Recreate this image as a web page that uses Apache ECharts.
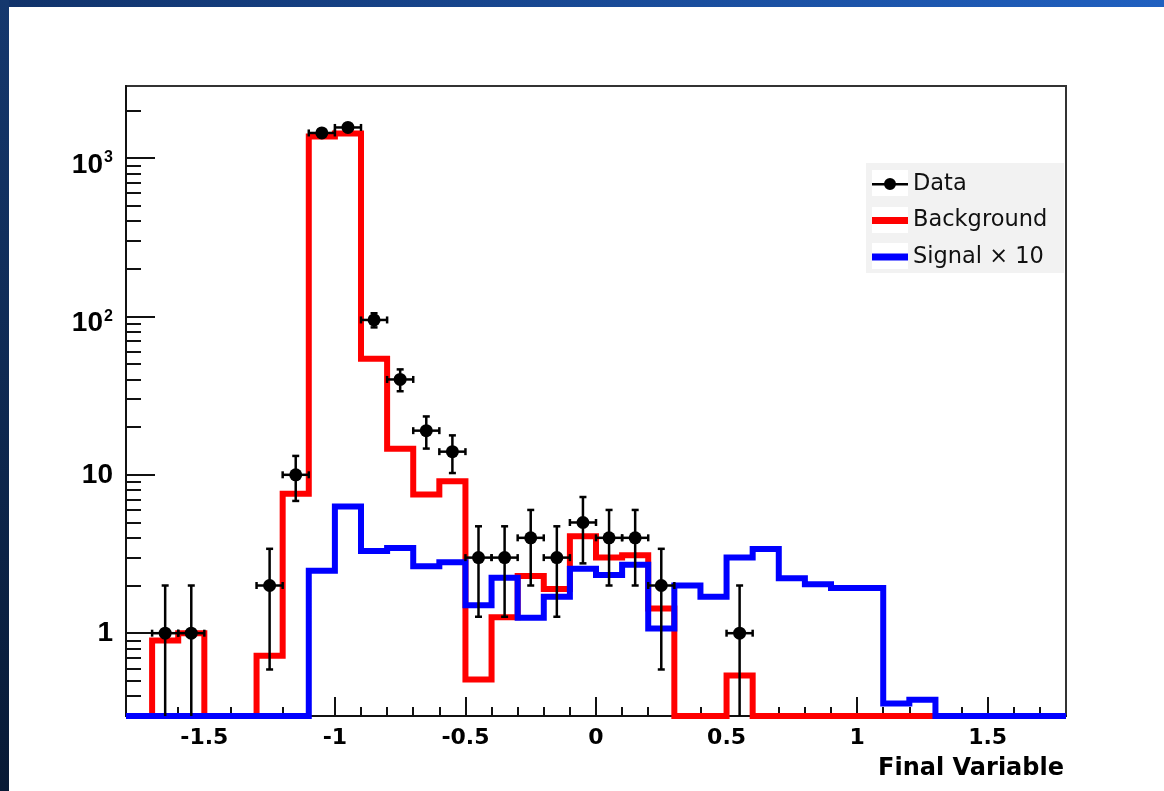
<!DOCTYPE html>
<html>
<head>
<meta charset="utf-8">
<title>Final Variable</title>
<script src="https://cdn.jsdelivr.net/npm/echarts@6/dist/echarts.min.js"></script>
<style>
  html, body { margin: 0; padding: 0; background: #fff; }
  #wrap { position: relative; width: 1164px; height: 791px; overflow: hidden; }
  #chart { position: absolute; left: 0; top: 0; width: 1164px; height: 791px; }
  /* slide frame bands */
  #bandTop { position: absolute; left: 0; top: 0; width: 1164px; height: 7px;
    background: linear-gradient(to right, #11336a, #2060c0); }
  #bandLeft { position: absolute; left: 0; top: 0; width: 9px; height: 791px;
    background: linear-gradient(to bottom, #15386e, #081a35); }
</style>
</head>
<body>
<div id="wrap">
  <div id="chart"></div>
  <div id="bandTop"></div>
  <div id="bandLeft"></div>
</div>
<script>
// bin edges of the histograms (width 0.1)
const xEdges = [
  -1.8, -1.7, -1.6, -1.5, -1.4, -1.3, -1.2, -1.1, -1.0, -0.9, -0.8, -0.7, -0.6,
  -0.5, -0.4, -0.3, -0.2, -0.1, 0.0, 0.1, 0.2, 0.3, 0.4, 0.5, 0.6, 0.7, 0.8,
  0.9, 1.0, 1.1, 1.2, 1.3, 1.4, 1.5, 1.6, 1.7, 1.8
];

// one value per bin, 0 = empty bin
const backgroundCounts = [
  0, 0.9, 1.0, 0, 0, 0.72, 7.6, 1370, 1430, 54, 14.6, 7.5, 9.1,
  0.51, 1.26, 2.3, 1.9, 4.1, 3.0, 3.1, 1.43, 0, 0, 0.54, 0, 0,
  0, 0, 0, 0, 0, 0, 0, 0, 0, 0
];
const signalCounts = [
  0, 0, 0, 0, 0, 0, 0, 2.48, 6.3, 3.3, 3.45, 2.65, 2.8,
  1.5, 2.24, 1.25, 1.7, 2.55, 2.33, 2.7, 1.07, 2.0, 1.7, 3.0, 3.4, 2.22,
  2.04, 1.93, 1.93, 0.36, 0.38, 0, 0, 0, 0, 0
];

// data points (bin centre, count, error)
const dataCenters = [-1.65, -1.55, -1.25, -1.15, -1.05, -0.95, -0.85, -0.75, -0.65, -0.55,
  -0.45, -0.35, -0.25, -0.15, -0.05, 0.05, 0.15, 0.25, 0.55];
const dataCounts = [1, 1, 2, 10, 1440, 1560, 95, 40, 19, 14, 3, 3, 4, 3, 5, 4, 4, 2, 1];
const dataErrors = [1, 1, 1.41, 3.16, 38, 39.5, 9.75, 6.3, 4.36, 3.74,
  1.73, 1.73, 2, 1.73, 2.24, 2, 2, 1.41, 1];

// ticks and labels
const xMajorTicks = [-1.5, -1, -0.5, 0, 0.5, 1, 1.5];
const xMinorTicks = [-1.7, -1.6, -1.4, -1.3, -1.2, -1.1, -0.9, -0.8, -0.7, -0.6,
  -0.4, -0.3, -0.2, -0.1, 0.1, 0.2, 0.3, 0.4, 0.6, 0.7, 0.8, 0.9,
  1.1, 1.2, 1.3, 1.4, 1.6, 1.7];
const yMajorTicks = [1, 10, 100, 1000];
const yMinorTicks = [0.4, 0.5, 0.6, 0.7, 0.8, 0.9, 2, 3, 4, 5, 6, 7, 8, 9,
  20, 30, 40, 50, 60, 70, 80, 90, 200, 300, 400, 500, 600, 700, 800, 900, 2000];
const yPlainLabels = [1, 10];          // written out in full
const yPowerLabels = [100, 1000];      // written as 10 with an exponent
const yExponents = {100: '2', 1000: '3'};

const xMin = -1.8, xMax = 1.8;
const yMin = 0.3, yMax = 2850;
const halfBin = (xEdges[1] - xEdges[0]) / 2;

// histogram -> step points, empty bins sit on the axis floor
function toSteps(counts) {
  const pts = counts.map((v, i) => [xEdges[i], v > yMin ? v : yMin]);
  pts.push([xEdges[xEdges.length - 1], pts[pts.length - 1][1]]);
  return pts;
}

const chart = echarts.init(document.getElementById('chart'), null, {renderer: 'canvas'});

const tickLine = {color: '#111', width: 2};
const baseX = {
  type: 'value', min: xMin, max: xMax, position: 'bottom',
  splitLine: {show: false}
};
const baseY = {
  type: 'log', logBase: 10, min: yMin, max: yMax, position: 'left',
  splitLine: {show: false}
};
const yFont = {fontFamily: 'Liberation Sans', fontWeight: 'bold', color: '#000'};

const option = {
  animation: false,
  backgroundColor: '#fff',
  textStyle: {fontFamily: 'DejaVu Sans'},
  title: {
    text: 'Final Variable',
    right: 100, top: 757, padding: 0,
    textStyle: {fontFamily: 'DejaVu Sans', fontWeight: 'bold', fontSize: 24, color: '#000'}
  },
  grid: {
    left: 126, right: 98, top: 86, bottom: 75,
    show: true, borderColor: '#333', borderWidth: 2, backgroundColor: 'transparent'
  },
  graphic: [
    {type: 'rect', z: 3, shape: {x: 866, y: 163, width: 198, height: 110}, style: {fill: '#f2f2f2'}},
    {type: 'rect', z: 3, shape: {x: 872, y: 170, width: 36, height: 26}, style: {fill: '#fff'}},
    {type: 'rect', z: 3, shape: {x: 872, y: 207, width: 36, height: 26}, style: {fill: '#fff'}},
    {type: 'rect', z: 3, shape: {x: 872, y: 243, width: 36, height: 26}, style: {fill: '#fff'}}
  ],
  legend: {
    orient: 'vertical',
    left: 872, top: 172, padding: 0,
    itemWidth: 36, itemHeight: 14, itemGap: 12.5, itemTextGap: 11,
    symbolKeepAspect: true,
    textStyle: {fontFamily: 'DejaVu Sans', fontSize: 22.5, color: '#111', lineHeight: 24},
    data: [
      {name: 'Data', icon: 'path://M0,5.5h36v2.5h-36z M24,6.5A6,6 0 1,1 12,6.5A6,6 0 1,1 24,6.5Z'},
      {name: 'Background', icon: 'path://M0,0h36v7h-36z'},
      {name: 'Signal \u00d7 10', icon: 'path://M0,0h36v7h-36z'}
    ]
  },
  xAxis: [
    Object.assign({}, baseX, {
      axisLine: {show: true, onZero: false, lineStyle: tickLine},
      axisTick: {show: true, inside: true, length: 19, customValues: xMajorTicks, lineStyle: tickLine},
      axisLabel: {show: true, customValues: xMajorTicks, margin: 11,
        fontFamily: 'DejaVu Sans', fontWeight: 'bold', fontSize: 22, color: '#000',
        formatter: v => String(v)}
    }),
    Object.assign({}, baseX, {
      axisLine: {show: false, onZero: false},
      axisTick: {show: true, inside: true, length: 9, customValues: xMinorTicks, lineStyle: tickLine},
      axisLabel: {show: false}
    })
  ],
  yAxis: [
    Object.assign({}, baseY, {
      axisLine: {show: true, onZero: false, lineStyle: tickLine},
      axisTick: {show: true, inside: true, length: 29, customValues: yMajorTicks, lineStyle: tickLine},
      axisLabel: Object.assign({show: true, customValues: yPlainLabels, margin: 13, fontSize: 28,
        formatter: v => String(v)}, yFont)
    }),
    Object.assign({}, baseY, {
      axisLine: {show: false, onZero: false},
      axisTick: {show: true, inside: true, length: 15, customValues: yMinorTicks, lineStyle: tickLine},
      // base "10" of the powers, sits a little below the tick
      axisLabel: Object.assign({show: true, customValues: yPowerLabels, margin: 23, fontSize: 28,
        lineHeight: 14, verticalAlign: 'top', formatter: () => '10'}, yFont)
    }),
    Object.assign({}, baseY, {
      axisLine: {show: false, onZero: false},
      axisTick: {show: false},
      // exponent
      axisLabel: Object.assign({show: true, customValues: yPowerLabels, margin: 13, fontSize: 16,
        formatter: v => yExponents[v]}, yFont)
    })
  ],
  series: [
    {
      name: 'Background',
      type: 'line', step: 'end', symbol: 'none',
      xAxisIndex: 0, yAxisIndex: 0,
      data: toSteps(backgroundCounts),
      itemStyle: {color: '#ff0000'},
      lineStyle: {color: '#ff0000', width: 6, join: 'miter', cap: 'butt'},
      z: 2
    },
    {
      name: 'Signal \u00d7 10',
      type: 'line', step: 'end', symbol: 'none',
      xAxisIndex: 0, yAxisIndex: 0,
      data: toSteps(signalCounts),
      itemStyle: {color: '#0000ff'},
      lineStyle: {color: '#0000ff', width: 6, join: 'miter', cap: 'butt'},
      z: 3
    },
    {
      name: 'Data',
      type: 'custom',
      xAxisIndex: 0, yAxisIndex: 0,
      itemStyle: {color: '#000'},
      z: 4,
      data: dataCenters.map((x, i) => [x, dataCounts[i], dataErrors[i]]),
      renderItem: function (params, api) {
        const x = api.value(0), y = api.value(1), e = api.value(2);
        const c = api.coord([x, y]);
        const xl = api.coord([x - halfBin, y])[0];
        const xr = api.coord([x + halfBin, y])[0];
        const low = y - e;
        const clipped = low <= yMin;
        const yb = api.coord([x, clipped ? yMin : low])[1];
        const yt = api.coord([x, y + e])[1];
        const st = {stroke: '#000', lineWidth: 2.5};
        const cap = 3.5;
        const kids = [
          {type: 'line', shape: {x1: xl, y1: c[1], x2: xr, y2: c[1]}, style: st},
          {type: 'line', shape: {x1: xl, y1: c[1] - cap, x2: xl, y2: c[1] + cap}, style: st},
          {type: 'line', shape: {x1: xr, y1: c[1] - cap, x2: xr, y2: c[1] + cap}, style: st},
          {type: 'line', shape: {x1: c[0], y1: yb, x2: c[0], y2: yt}, style: st},
          {type: 'line', shape: {x1: c[0] - cap, y1: yt, x2: c[0] + cap, y2: yt}, style: st}
        ];
        if (!clipped) {
          kids.push({type: 'line', shape: {x1: c[0] - cap, y1: yb, x2: c[0] + cap, y2: yb}, style: st});
        }
        kids.push({type: 'circle', shape: {cx: c[0], cy: c[1], r: 6.5}, style: {fill: '#000'}});
        return {type: 'group', children: kids};
      }
    }
  ]
};

chart.setOption(option);
</script>
</body>
</html>
